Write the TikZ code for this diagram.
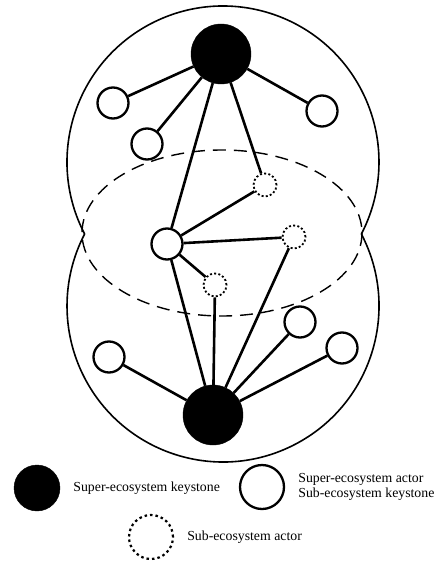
\documentclass[tikz,border=0pt]{standalone}
\usepackage{fontspec}
\setmainfont{Liberation Serif}
\usetikzlibrary{positioning}
\tikzset{
  keystone/.style={circle,fill=black,draw=black,minimum size=60pt,inner sep=0pt},
  actor/.style={circle,fill=white,draw=black,line width=2.3pt,minimum size=31pt,inner sep=0pt},
  subactor/.style={circle,fill=white,draw=black,line width=1.8pt,dash pattern=on 2pt off 2.2pt,minimum size=23pt,inner sep=0pt},
  link/.style={draw=black,line width=2.6pt},
  boundary/.style={draw=black,line width=1.6pt},
  legendtext/.style={font=\fontsize{13.8}{14.5}\selectfont,inner sep=0pt,align=left}
}
\begin{document}
\begin{tikzpicture}[x=1pt,y=-1pt]
  \useasboundingbox (0,0) rectangle (435,561);

  % ecosystem boundaries
  \draw[boundary] (223,162) ++(152.5:156) arc[start angle=152.5,end angle=387.5,radius=156];
  \draw[boundary] (223,306) ++(-27.5:156) arc[start angle=-27.5,end angle=207.5,radius=156];
  \draw[line width=1.4pt,dash pattern=on 13pt off 8pt] (222,233) ellipse[x radius=140,y radius=83];

  % actors
  \node[keystone] (topkey) at (221,54) {};
  \node[keystone] (botkey) at (213,415) {};
  \node[actor] (a1) at (113,103) {};
  \node[actor] (a2) at (147,144) {};
  \node[actor] (a3) at (322,111) {};
  \node[actor] (mid) at (167,244) {};
  \node[actor] (a5) at (109,357) {};
  \node[actor] (a6) at (300,322) {};
  \node[actor] (a7) at (342,348) {};
  \node[subactor] (s1) at (265,185) {};
  \node[subactor] (s2) at (294,237) {};
  \node[subactor] (s3) at (215,285) {};

  \foreach \t in {a1,a2,a3,mid,s1}
    \draw[link] (topkey) -- (\t);
  \foreach \t in {s1,s2,s3,botkey}
    \draw[link] (mid) -- (\t);
  \foreach \t in {a5,s3,s2,a6,a7}
    \draw[link] (botkey) -- (\t);

  % legend
  \node[keystone,minimum size=46pt] (lgkey) at (37,488) {};
  \node[legendtext,right=13pt of lgkey] (lgkeytxt) {Super-ecosystem keystone};
  \node[actor,minimum size=44pt] (lgactor) at (262,487) {};
  \node[legendtext,right=13pt of lgactor] (lgactortxt) {Super-ecosystem actor\\Sub-ecosystem keystone};
  \node[subactor,minimum size=44pt,line width=2.2pt,dash pattern=on 2.5pt off 3pt] (lgsub) at (151,537) {};
  \node[legendtext,right=13pt of lgsub] (lgsubtxt) {Sub-ecosystem actor};
\end{tikzpicture}
\end{document}
